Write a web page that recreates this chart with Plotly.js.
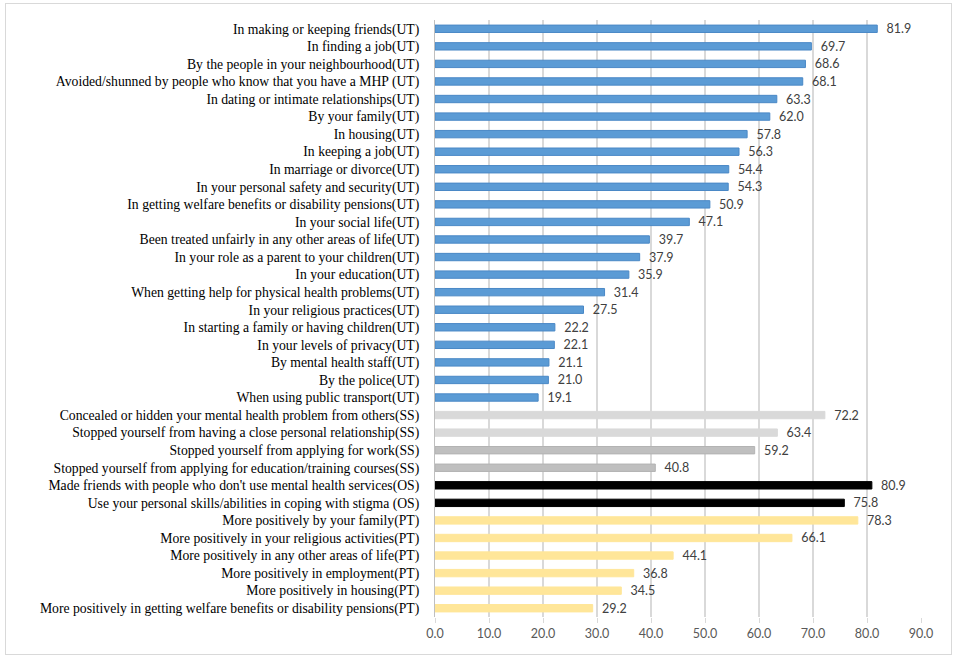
<!DOCTYPE html>
<html><head><meta charset="utf-8">
<script src="https://cdn.plot.ly/plotly-3.0.1.min.js"></script>
<style>
body{margin:0;padding:0;background:#fff;}
#wrap{position:relative;width:957px;height:660px;}
#chart{width:957px;height:660px;}
#frame{position:absolute;left:5px;top:3px;width:945px;height:650px;border:1px solid #d9d9d9;pointer-events:none;}
</style></head>
<body>
<div id="wrap"><div id="chart"></div><div id="frame"></div></div>
<script>
const utLabels = [
 "In making or keeping friends(UT)",
 "In finding a job(UT)",
 "By the people in your neighbourhood(UT)",
 "Avoided/shunned by people who know that you have a MHP (UT)",
 "In dating or intimate relationships(UT)",
 "By your family(UT)",
 "In housing(UT)",
 "In keeping a job(UT)",
 "In marriage or divorce(UT)",
 "In your personal safety and security(UT)",
 "In getting welfare benefits or disability pensions(UT)",
 "In your social life(UT)",
 "Been treated unfairly in any other areas of life(UT)",
 "In your role as a parent to your children(UT)",
 "In your education(UT)",
 "When getting help for physical health problems(UT)",
 "In your religious practices(UT)",
 "In starting a family or having children(UT)",
 "In your levels of privacy(UT)",
 "By mental health staff(UT)",
 "By the police(UT)",
 "When using public transport(UT)"
];
const utValues = [81.9,69.7,68.6,68.1,63.3,62.0,57.8,56.3,54.4,54.3,50.9,47.1,39.7,37.9,35.9,31.4,27.5,22.2,22.1,21.1,21.0,19.1];
const ssLabels = [
 "Concealed or hidden your mental health problem from others(SS)",
 "Stopped yourself from having a close personal relationship(SS)",
 "Stopped yourself from applying for work(SS)",
 "Stopped yourself from applying for education/training courses(SS)"
];
const ssValues = [72.2,63.4,59.2,40.8];
const osLabels = [
 "Made friends with people who don't use mental health services(OS)",
 "Use your personal skills/abilities in coping with stigma (OS)"
];
const osValues = [80.9,75.8];
const ptLabels = [
 "More positively by your family(PT)",
 "More positively in your religious activities(PT)",
 "More positively in any other areas of life(PT)",
 "More positively in employment(PT)",
 "More positively in housing(PT)",
 "More positively in getting welfare benefits or disability pensions(PT)"
];
const ptValues = [78.3,66.1,44.1,36.8,34.5,29.2];
const xTicks = [0,10,20,30,40,50,60,70,80,90];

const labels = [].concat(utLabels, ssLabels, osLabels, ptLabels);
const values = [].concat(utValues, ssValues, osValues, ptValues);
const fills = [].concat(
  utLabels.map(()=>"#5b9bd5"),
  ["#d9d9d9","#d9d9d9","#bfbfbf","#bfbfbf"],
  osLabels.map(()=>"#000000"),
  ptLabels.map(()=>"#ffe699")
);
const lines = [].concat(
  utLabels.map(()=>"#4a88c6"),
  ["#d9d9d9","#d9d9d9","#b3b3b3","#b3b3b3"],
  osLabels.map(()=>"#000000"),
  ptLabels.map(()=>"#ffe699")
);

const trace = {
  type: "bar",
  orientation: "h",
  x: values,
  y: labels,
  marker: {color: fills, line: {color: lines, width: 1}},
  text: values.map(v => "\u2002" + v.toFixed(1)),
  textposition: "outside",
  constraintext: "none",
  cliponaxis: false,
  textfont: {family: "Lato, 'Open Sans', sans-serif", size: 12.5, color: "#404040"},
  hoverinfo: "x+y"
};

const layout = {
  width: 957, height: 660,
  margin: {l: 435, r: 36, t: 20, b: 43},
  paper_bgcolor: "rgba(0,0,0,0)",
  plot_bgcolor: "#fff",
  bargap: 0.58,
  showlegend: false,
  xaxis: {
    range: [0, 90],
    tickvals: xTicks,
    ticktext: xTicks.map(v => v.toFixed(1)),
    showgrid: true, gridcolor: "#d9d9d9", gridwidth: 1.5,
    zeroline: false,
    ticks: "outside", ticklen: 5, tickcolor: "#d9d9d9",
    tickfont: {family: "Lato, 'Open Sans', sans-serif", size: 12.5, color: "#595959"},
    fixedrange: true
  },
  yaxis: {
    type: "category",
    autorange: "reversed",
    showline: true, linecolor: "#bfbfbf", linewidth: 1,
    showgrid: false,
    ticks: "",
    ticklabelstandoff: 12,
    tickfont: {family: "'Liberation Serif', 'Times New Roman', serif", size: 13.7, color: "#000"},
    fixedrange: true
  }
};

Plotly.newPlot("chart", [trace], layout, {displayModeBar: false, staticPlot: true});
</script>
</body></html>
